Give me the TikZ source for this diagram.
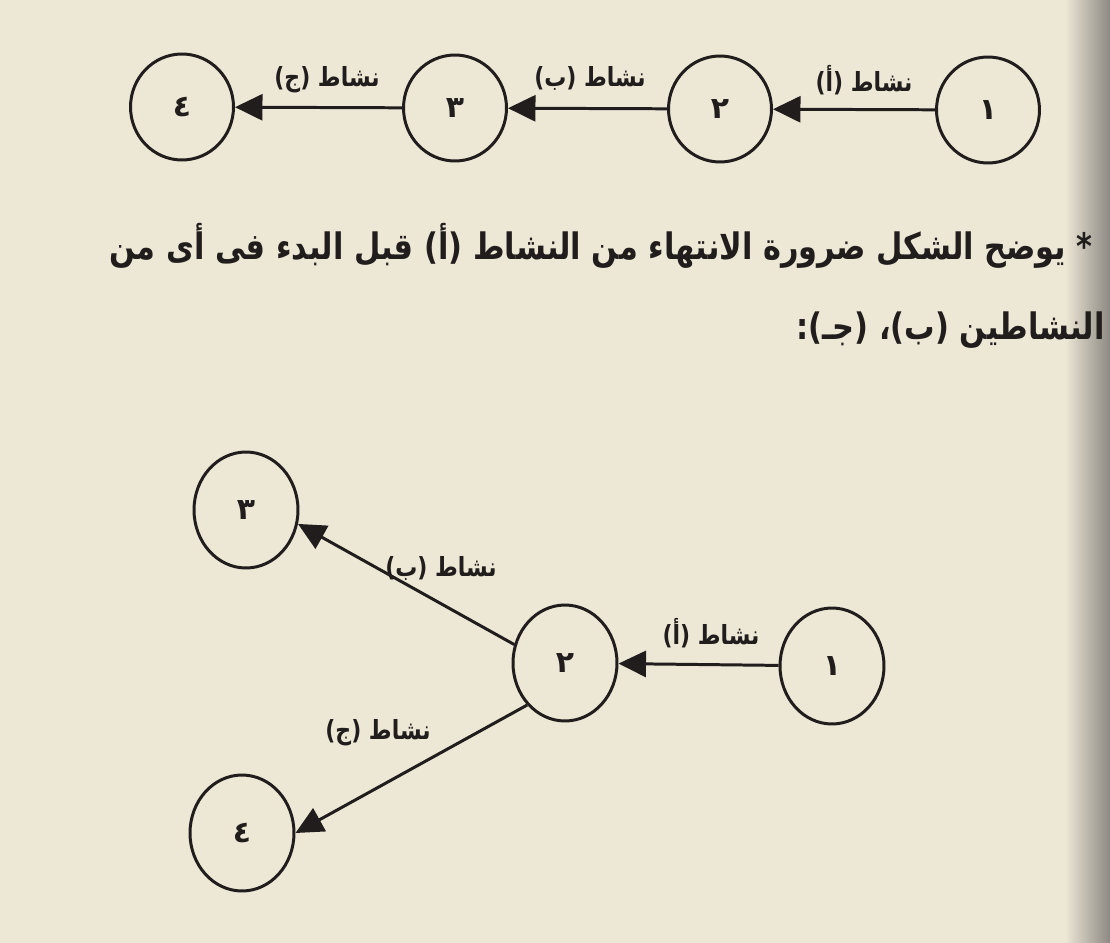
\documentclass[tikz,border=0pt]{standalone}
\usepackage{fontspec}
\usepackage{graphicx}
\usetikzlibrary{arrows.meta,shapes.geometric}
\TeXXeTstate=1
\newfontfamily\arabicfont[Script=Arabic]{DejaVu Sans}
\definecolor{paper}{RGB}{237,231,214}
\definecolor{ink}{RGB}{32,29,28}
\definecolor{shadow}{RGB}{140,136,130}
\newcommand{\tallR}[1]{\scalebox{1}[1.2]{\beginR #1\endR}}
\begin{document}
\begin{tikzpicture}[x=0.02cm,y=-0.02cm,
  ev/.style={ellipse, draw=ink, line width=1.7pt, inner sep=0pt,
    font=\arabicfont\bfseries\fontsize{17}{19}\selectfont, text=ink},
  evtop/.style={ev, minimum width=2.06cm, minimum height=2.12cm},
  evbot/.style={ev, minimum width=2.08cm, minimum height=2.32cm},
  act/.style={draw=ink, line width=1.7pt, -{Triangle[length=0.55cm,width=0.52cm]}},
  lbl/.style={font=\arabicfont\bfseries\fontsize{12.5}{15}\selectfont, text=ink, inner sep=0pt},
  body/.style={font=\arabicfont\bfseries\fontsize{17.3}{21}\selectfont, text=ink, anchor=east, inner sep=0pt}]
\useasboundingbox (0,0) rectangle (1110,943);
\fill[paper] (0,0) rectangle (1110,943);
\shade[left color=paper, right color=shadow] (1065,0) rectangle (1110,943);

% top row
\node[evtop] (t4) at (182,107) {\beginR ٤\endR};
\node[evtop] (t3) at (455,108) {\beginR ٣\endR};
\node[evtop] (t2) at (720,109) {\beginR ٢\endR};
\node[evtop] (t1) at (988,110) {\beginR ١\endR};
\draw[act] (t1) -- (t2);
\draw[act] (t2) -- (t3);
\draw[act] (t3) -- (t4);
\node[lbl] (la) at (864,80) {\tallR{نشاط (أ)}};
\node[lbl] (lb) at (590,78) {\tallR{نشاط (ب)}};
\node[lbl] (lc) at (327,80) {\tallR{نشاط (ج)}};

% text
\node[body] (line1) at (1093,246) {\tallR{* يوضح الشكل ضرورة الانتهاء من النشاط (أ) قبل البدء فى أى من}};
\node[body] (line2) at (1105,330) {\tallR{النشاطين (ب)، (جـ):}};

% bottom diagram
\node[evbot] (b3) at (246,510) {\beginR ٣\endR};
\node[evbot] (b2) at (565,663) {\beginR ٢\endR};
\node[evbot] (b1) at (832,666) {\beginR ١\endR};
\node[evbot] (b4) at (242,833) {\beginR ٤\endR};
\draw[act] (b1) -- (b2);
\draw[act] (b2.160) -- (b3.-15);
\draw[act] (b2.228) -- (b4.east);
\node[lbl] (lb2) at (441,568) {\tallR{نشاط (ب)}};
\node[lbl] (la2) at (711,633) {\tallR{نشاط (أ)}};
\node[lbl] (lc2) at (378,733) {\tallR{نشاط (ج)}};
\end{tikzpicture}
\end{document}
